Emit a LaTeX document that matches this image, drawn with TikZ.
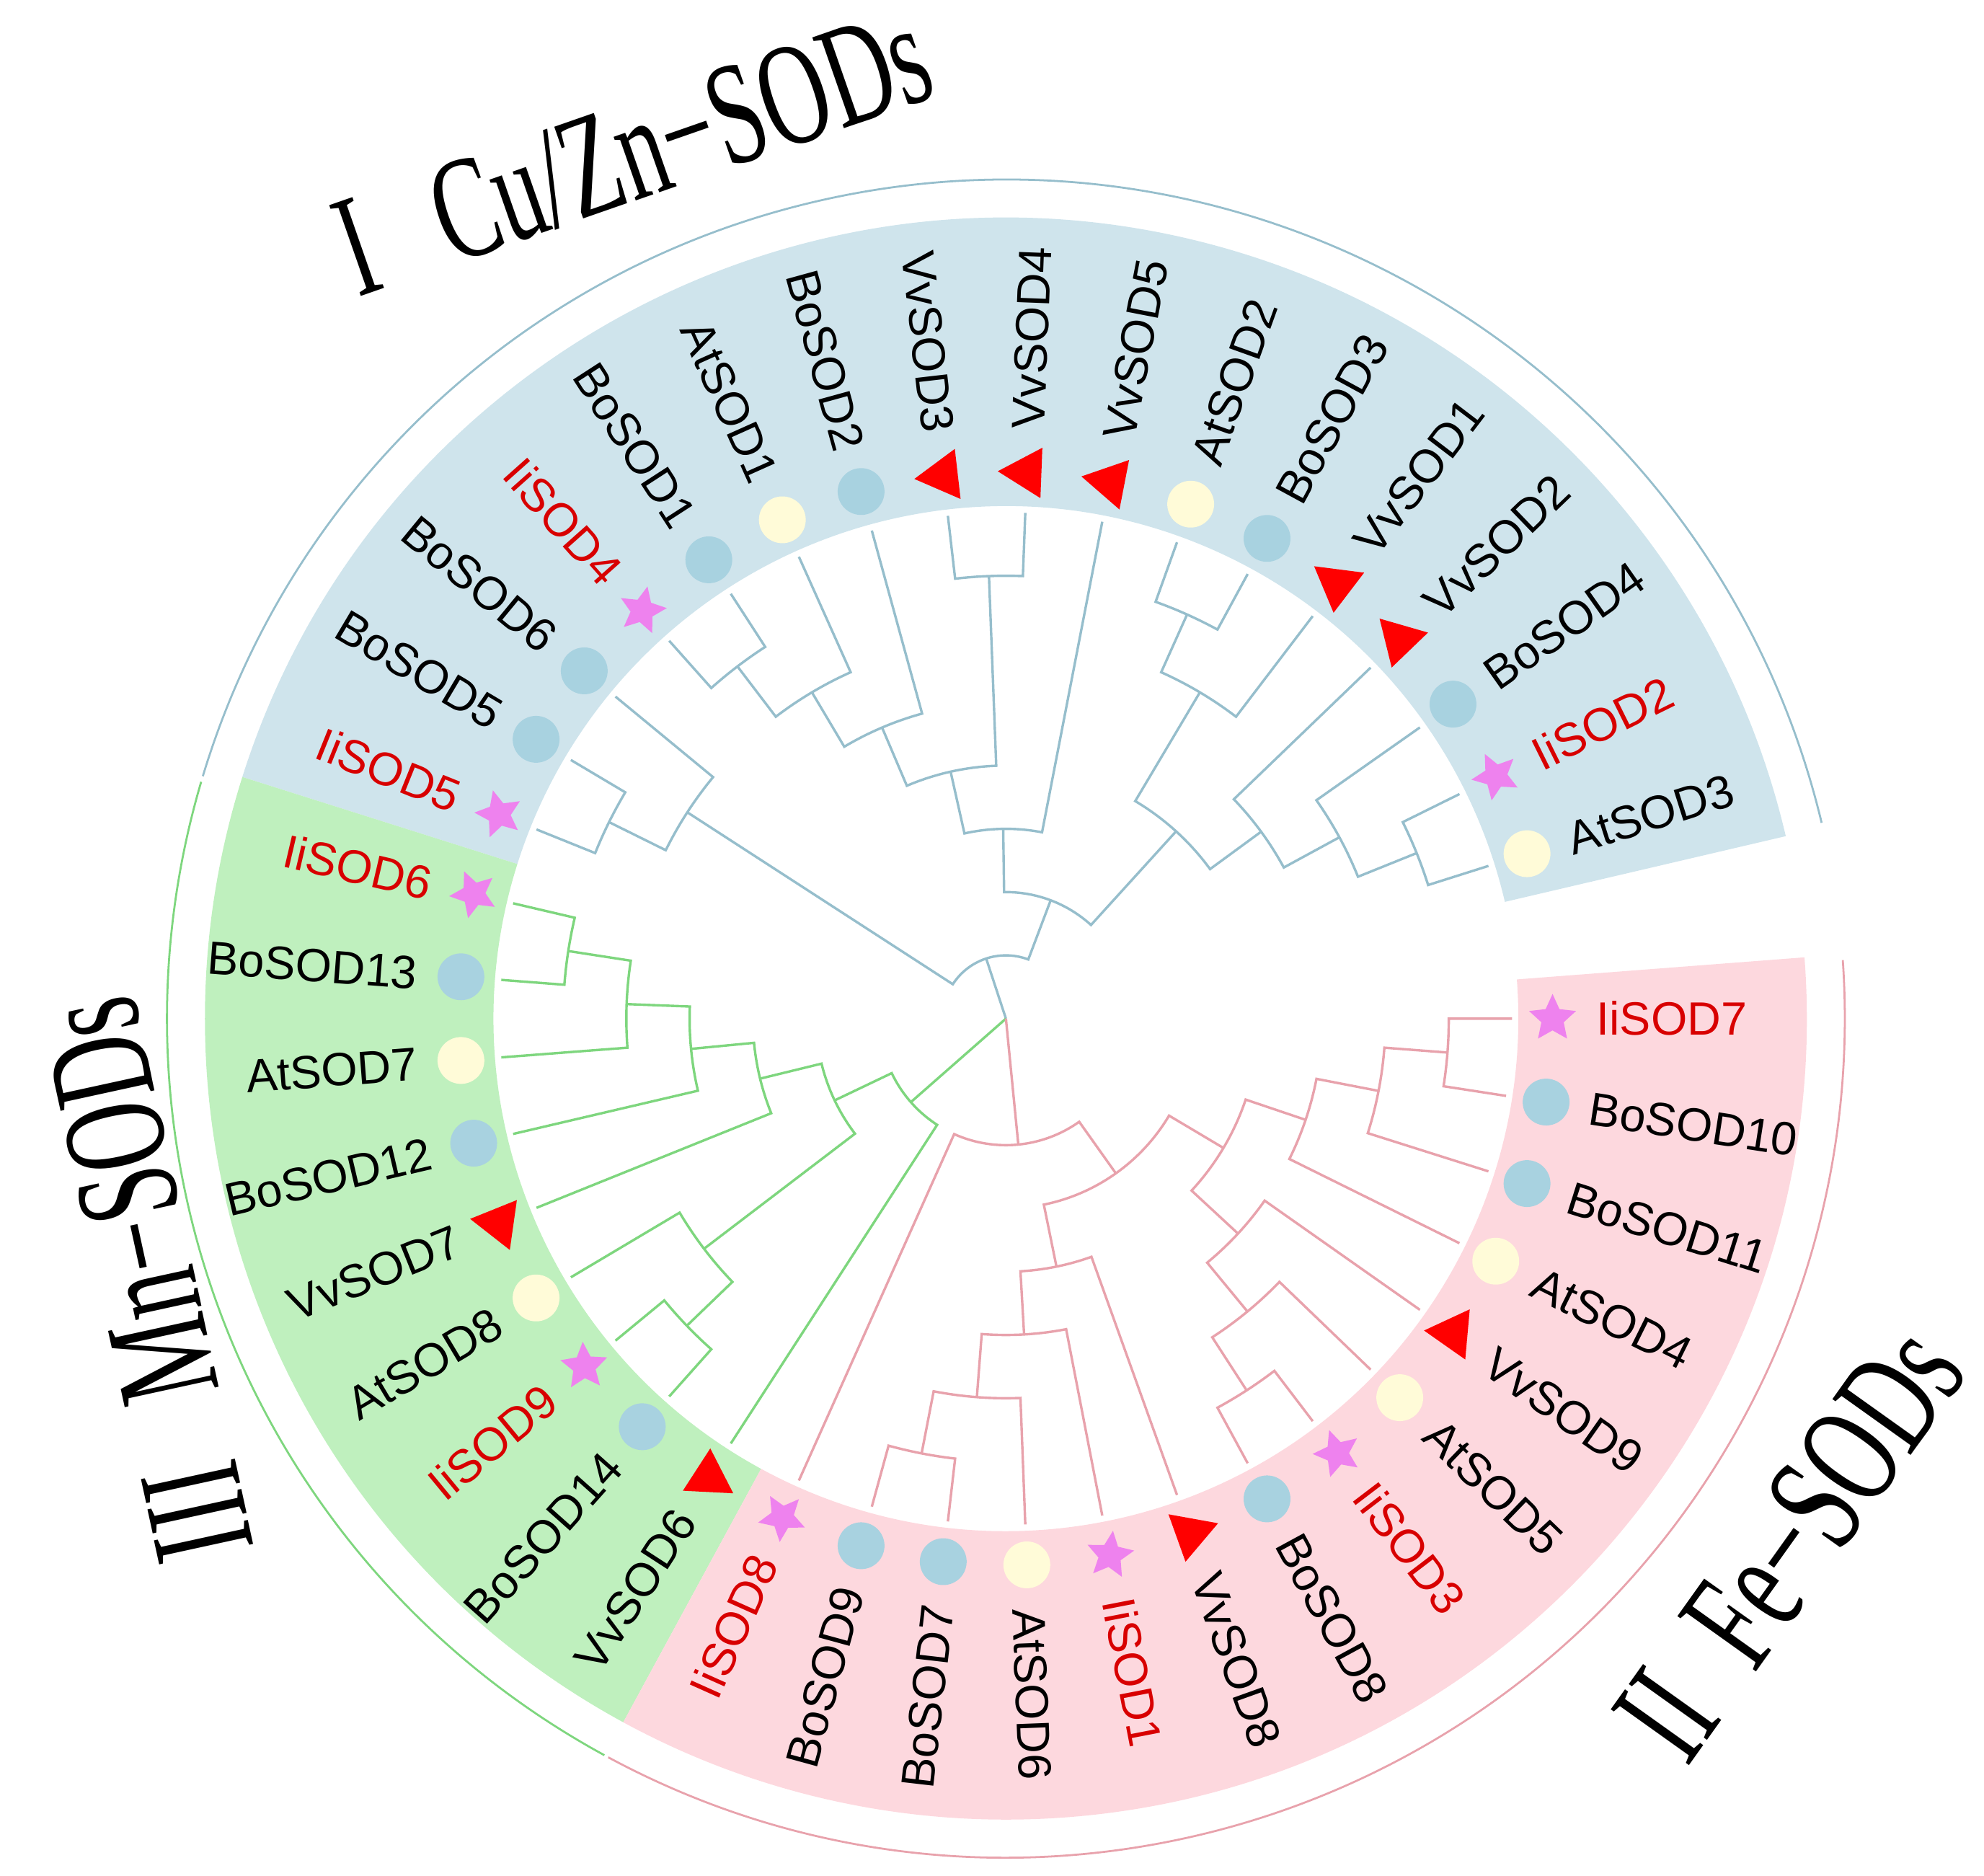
\documentclass[tikz,border=0pt]{standalone}
\usepackage{fontspec}
\setmainfont{Liberation Sans}
\newfontfamily\titlefont[FakeStretch=0.64]{Liberation Serif}
\usetikzlibrary{shapes.geometric}

\definecolor{bgblue}{RGB}{207,228,236}
\definecolor{bggreen}{RGB}{191,240,190}
\definecolor{bgpink}{RGB}{253,216,222}
\definecolor{lnblue}{RGB}{150,190,204}
\definecolor{lngreen}{RGB}{126,214,126}
\definecolor{lnpink}{RGB}{232,162,172}
\definecolor{dotblue}{RGB}{168,210,224}
\definecolor{dotyellow}{RGB}{255,251,216}
\definecolor{starpink}{RGB}{238,130,238}
\definecolor{trired}{RGB}{255,0,0}
\definecolor{namered}{RGB}{216,0,0}

% clade: colour, parent, child 1, child 2, radius of the parent
\newcommand{\clade}[5]{%
  \edef\angA{\csname ang-#3\endcsname}%
  \edef\angB{\csname ang-#4\endcsname}%
  \pgfmathsetmacro\angP{(\angA+\angB)/2}%
  \expandafter\xdef\csname ang-#2\endcsname{\angP}%
  \coordinate (#2) at (\angP:#5);
  \coordinate (#3-up) at (\angA:#5);
  \draw[#1] (#3) -- (#3-up) arc[start angle=\angA, end angle=\angB, radius=#5] -- (#4);
}

\begin{document}
\begin{tikzpicture}[
  brblue/.style={draw=lnblue, line width=0.55pt},
  brgreen/.style={draw=lngreen, line width=0.55pt},
  brpink/.style={draw=lnpink, line width=0.55pt},
  mk-Bo/.style={circle, fill=dotblue, minimum size=0.37cm, inner sep=0pt},
  mk-At/.style={circle, fill=dotyellow, minimum size=0.37cm, inner sep=0pt},
  mk-Vv/.style={regular polygon, regular polygon sides=3, fill=trired, minimum size=0.46cm, inner sep=0pt},
  mk-Ii/.style={star, star points=5, star point ratio=2.1, fill=starpink, minimum size=0.39cm, inner sep=0pt},
  nm-Bo/.style={text=black}, nm-At/.style={text=black},
  nm-Vv/.style={text=black}, nm-Ii/.style={text=namered},
  leafname/.style={inner sep=0pt, font=\fontsize{10.5}{12}\selectfont},
  grouptitle/.style={inner sep=0pt, anchor=base, font=\titlefont\fontsize{33}{36}\selectfont}
]
\useasboundingbox (-7.95,-6.77) rectangle (7.73,8.05);

% Shaded groups
\fill[bgblue] (-346.83:4.05) arc[start angle=-346.83, end angle=-197.56, radius=4.05]
  -- (-197.56:6.33) arc[start angle=-197.56, end angle=-346.83, radius=6.33] -- cycle;
\fill[bggreen] (-197.56:4.05) arc[start angle=-197.56, end angle=-118.54, radius=4.05]
  -- (-118.54:6.33) arc[start angle=-118.54, end angle=-197.56, radius=6.33] -- cycle;
\fill[bgpink] (-118.54:4.05) arc[start angle=-118.54, end angle=4.39, radius=4.05]
  -- (4.39:6.33) arc[start angle=4.39, end angle=-118.54, radius=6.33] -- cycle;

% Group arcs
\draw[lnblue, line width=0.45pt] (13.5:6.63) arc[start angle=13.5, end angle=163.2, radius=6.63];
\draw[lngreen, line width=0.45pt] (163.6:6.63) arc[start angle=163.6, end angle=241.4, radius=6.63];
\draw[lnpink, line width=0.45pt] (-118.3:6.63) arc[start angle=-118.3, end angle=4, radius=6.63];

% Leaves
\foreach \nm/\sp [count=\i from 0] in {IiSOD7/Ii, BoSOD10/Bo, BoSOD11/Bo, AtSOD4/At,
  VvSOD9/Vv, AtSOD5/At, IiSOD3/Ii, BoSOD8/Bo, VvSOD8/Vv, IiSOD1/Ii, AtSOD6/At,
  BoSOD7/Bo, BoSOD9/Bo, IiSOD8/Ii, VvSOD6/Vv, BoSOD14/Bo, IiSOD9/Ii, AtSOD8/At,
  VvSOD7/Vv, BoSOD12/Bo, AtSOD7/At, BoSOD13/Bo, IiSOD6/Ii, IiSOD5/Ii, BoSOD5/Bo,
  BoSOD6/Bo, IiSOD4/Ii, BoSOD1/Bo, AtSOD1/At, BoSOD2/Bo, VvSOD3/Vv, VvSOD4/Vv,
  VvSOD5/Vv, AtSOD2/At, BoSOD3/Bo, VvSOD1/Vv, VvSOD2/Vv, BoSOD4/Bo, IiSOD2/Ii,
  AtSOD3/At}
{
  \pgfmathsetmacro\lfang{-\i*360/41}
  \expandafter\xdef\csname ang-\nm\endcsname{\lfang}
  \coordinate (\nm) at (\lfang:4);
  \node[mk-\sp, rotate=\lfang] (m-\nm) at (\lfang:4.32) {};
  \pgfmathtruncatemacro\lft{cos(\lfang)<0}
  \ifnum\lft=1
    \node[leafname, nm-\sp, rotate=\lfang+180, anchor=east] (l-\nm) at (\lfang:4.66) {\nm};
  \else
    \node[leafname, nm-\sp, rotate=\lfang, anchor=west] (l-\nm) at (\lfang:4.66) {\nm};
  \fi
}

% I Cu/Zn-SODs
\clade{brblue}{cz1}{IiSOD5}{BoSOD5}{3.5}
\clade{brblue}{cz2}{cz1}{BoSOD6}{3.0}
\clade{brblue}{cz3}{IiSOD4}{BoSOD1}{3.5}
\clade{brblue}{cz4}{cz3}{AtSOD1}{3.0}
\clade{brblue}{cz5}{cz4}{BoSOD2}{2.5}
\clade{brblue}{cz6}{VvSOD3}{VvSOD4}{3.5}
\clade{brblue}{cz7}{cz5}{cz6}{2.0}
\clade{brblue}{cz8}{cz7}{VvSOD5}{1.5}
\clade{brblue}{cz9}{AtSOD2}{BoSOD3}{3.5}
\clade{brblue}{cz10}{cz9}{VvSOD1}{3.0}
\clade{brblue}{cz11}{IiSOD2}{AtSOD3}{3.5}
\clade{brblue}{cz12}{BoSOD4}{cz11}{3.0}
\clade{brblue}{cz13}{VvSOD2}{cz12}{2.5}
\clade{brblue}{cz14}{cz10}{cz13}{2.0}
\clade{brblue}{cz15}{cz8}{cz14}{1.0}
\clade{brblue}{cz16}{cz2}{cz15}{0.5}

% III Mn-SODs
\clade{brgreen}{mn1}{IiSOD6}{BoSOD13}{3.5}
\clade{brgreen}{mn2}{mn1}{AtSOD7}{3.0}
\clade{brgreen}{mn3}{mn2}{BoSOD12}{2.5}
\clade{brgreen}{mn4}{mn3}{VvSOD7}{2.0}
\clade{brgreen}{mn5}{IiSOD9}{BoSOD14}{3.5}
\clade{brgreen}{mn6}{AtSOD8}{mn5}{3.0}
\clade{brgreen}{mn7}{mn4}{mn6}{1.5}
\clade{brgreen}{mn8}{mn7}{VvSOD6}{1.0}

% II Fe-SODs
\clade{brpink}{fe1}{IiSOD7}{BoSOD10}{3.5}
\clade{brpink}{fe2}{BoSOD11}{fe1}{3.0}
\clade{brpink}{fe3}{AtSOD4}{fe2}{2.5}
\clade{brpink}{fe4}{IiSOD3}{BoSOD8}{3.5}
\clade{brpink}{fe5}{fe4}{AtSOD5}{3.0}
\clade{brpink}{fe6}{fe5}{VvSOD9}{2.5}
\clade{brpink}{fe7}{fe6}{fe3}{2.0}
\clade{brpink}{fe8}{BoSOD7}{BoSOD9}{3.5}
\clade{brpink}{fe9}{fe8}{AtSOD6}{3.0}
\clade{brpink}{fe10}{fe9}{IiSOD1}{2.5}
\clade{brpink}{fe11}{fe10}{VvSOD8}{2.0}
\clade{brpink}{fe12}{fe11}{fe7}{1.5}
\clade{brpink}{fe13}{fe12}{IiSOD8}{1.0}

% Root
\coordinate (root) at (0,0);
\draw[brblue] (root) -- (cz16);
\draw[brgreen] (root) -- (mn8);
\draw[brpink] (root) -- (fe13);

% Group titles
\node[grouptitle, rotate=19.2] (t-cz) at (-2.82,6.50) {I\hspace{0.3em} Cu/Zn−SODs};
\node[grouptitle, rotate=102.3] (t-mn) at (-6.42,-1.98) {III\hspace{0.3em} Mn−SODs};
\node[grouptitle, rotate=54.5] (t-fe) at (6.50,-4.36) {II\hspace{0.2em} Fe−SODs};

\end{tikzpicture}
\end{document}
